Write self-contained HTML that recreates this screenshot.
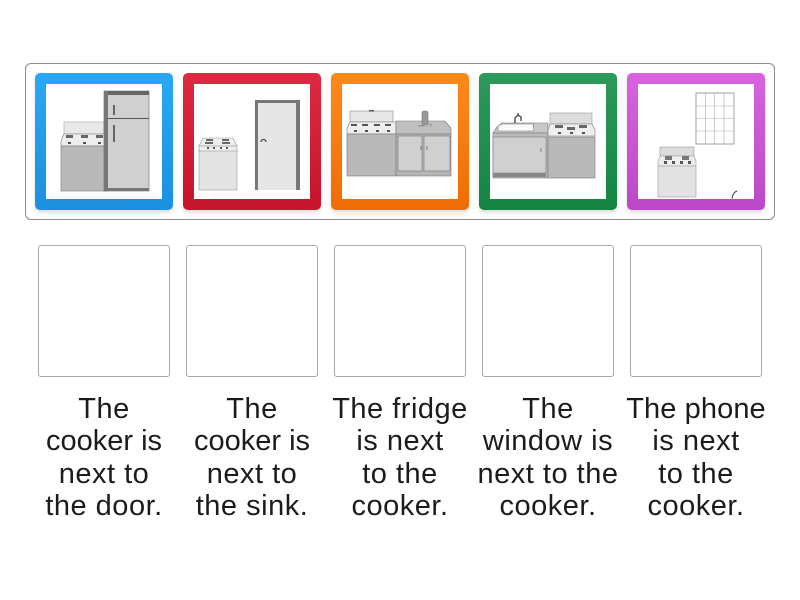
<!DOCTYPE html>
<html><head><meta charset="utf-8">
<style>
html,body{margin:0;padding:0;background:#fff;width:800px;height:600px;overflow:hidden}
.a{position:absolute;box-sizing:border-box}
.tray{left:25px;top:63px;width:750px;height:157px;border:1px solid #8c8c8c;border-radius:6px}
.card{top:73px;width:138px;height:137px;border-radius:5px;box-shadow:0 3px 4px rgba(0,0,0,.12)}
.in{left:11px;top:11px;width:116px;height:115px;background:#fff}
.drop{top:245px;width:131.500px;height:131.500px;border:1px solid #a8a8a8;border-radius:3px}
.t{top:393px;width:160px;text-align:center;font:29px/32.3px "Liberation Sans",sans-serif;color:#1c1c1c;white-space:nowrap;letter-spacing:.5px}
.n{letter-spacing:0}
.m{letter-spacing:.1px}
svg{position:absolute;left:0;top:0;filter:blur(.35px)}
</style></head><body>
<div class="a tray"></div>
<div class="a card" style="left:35px;background:linear-gradient(#2aa8f5,#1b90de)"><div class="a in"></div></div>
<div class="a card" style="left:183px;background:linear-gradient(#dd2a42,#c5142c)"><div class="a in"></div></div>
<div class="a card" style="left:331px;background:linear-gradient(#ff8a18,#f06c05)"><div class="a in"></div></div>
<div class="a card" style="left:479px;background:linear-gradient(#2d9a5c,#158441)"><div class="a in"></div></div>
<div class="a card" style="left:627px;background:linear-gradient(#d964e2,#bb48c6)"><div class="a in"></div></div>

<svg width="800" height="600" viewBox="0 0 800 600" stroke="#777" stroke-width=".6">
<!-- card 1 -->
<rect x="64" y="122" width="40" height="12" fill="#e8e8e8" stroke="#aaa"/>
<path d="M64 134H108V146H61V141Z" fill="#eee"/>
<rect x="61" y="146" width="47" height="45" fill="#b9b9b9"/>
<rect x="66" y="135" width="7" height="3" fill="#666" stroke="none"/><rect x="81" y="135" width="7" height="3" fill="#666" stroke="none"/><rect x="96" y="135" width="7" height="3" fill="#666" stroke="none"/>
<rect x="68" y="142" width="3" height="2" fill="#555" stroke="none"/><rect x="83" y="142" width="3" height="2" fill="#555" stroke="none"/><rect x="98" y="142" width="3" height="2" fill="#555" stroke="none"/>
<rect x="104" y="91" width="45" height="100" fill="#d0d0d0" stroke="#666"/>
<rect x="104" y="91" width="45" height="4" fill="#666" stroke="none"/>
<rect x="104" y="91" width="4" height="100" fill="#777" stroke="none"/>
<rect x="108" y="188" width="41" height="3" fill="#777" stroke="none"/>
<path d="M108 118.500H149" stroke="#555" stroke-width="1"/>
<rect x="113" y="105" width="2" height="10" fill="#666" stroke="none"/>
<rect x="113" y="125" width="2" height="17" fill="#666" stroke="none"/>
<!-- card 2 -->
<rect x="199" y="150" width="38" height="40" fill="#e4e4e4" stroke="#999"/>
<path d="M203 138H233L237 146H199Z" fill="#eee" stroke="#999"/>
<rect x="199" y="146" width="38" height="5" fill="#eee" stroke="#999"/>
<rect x="206" y="139" width="7" height="2" fill="#666" stroke="none"/><rect x="222" y="139" width="7" height="2" fill="#666" stroke="none"/>
<rect x="205" y="142" width="8" height="2" fill="#666" stroke="none"/><rect x="222" y="142" width="8" height="2" fill="#666" stroke="none"/>
<rect x="207" y="147" width="2" height="2" fill="#555" stroke="none"/><rect x="213" y="147" width="2" height="2" fill="#555" stroke="none"/><rect x="220" y="147" width="2" height="2" fill="#555" stroke="none"/><rect x="226" y="147" width="2" height="2" fill="#555" stroke="none"/>
<rect x="255" y="100" width="45" height="90" fill="#777" stroke="none"/>
<rect x="258" y="103" width="38" height="87" fill="#e6e6e6" stroke="none"/>
<path d="M261 142a2.500 2.500 0 0 1 5 0" fill="none" stroke="#444" stroke-width="1.200"/>
<!-- card 3 -->
<rect x="350" y="111" width="43" height="11" fill="#e8e8e8" stroke="#888"/>
<rect x="369" y="110" width="5" height="1.500" fill="#555" stroke="none"/>
<path d="M350 122H396V134H347V128Z" fill="#eee"/>
<rect x="347" y="134" width="49" height="42" fill="#b9b9b9"/>
<rect x="351" y="124" width="6" height="2" fill="#555" stroke="none"/><rect x="362" y="124" width="6" height="2" fill="#555" stroke="none"/><rect x="374" y="124" width="6" height="2" fill="#555" stroke="none"/><rect x="385" y="124" width="6" height="2" fill="#555" stroke="none"/>
<rect x="354" y="130" width="3" height="2" fill="#555" stroke="none"/><rect x="365" y="130" width="3" height="2" fill="#555" stroke="none"/><rect x="376" y="130" width="3" height="2" fill="#555" stroke="none"/><rect x="387" y="130" width="3" height="2" fill="#555" stroke="none"/>
<path d="M396 121H445L451 128V134H396Z" fill="#c0c0c0"/>
<rect x="396" y="134" width="55" height="42" fill="#b5b5b5"/>
<rect x="398" y="136" width="24" height="35" fill="#d0d0d0"/>
<rect x="424" y="136" width="26" height="35" fill="#d0d0d0"/>
<path d="M421 146v4M427 146v4" stroke="#444"/>
<rect x="422" y="111" width="6" height="14" rx="2" fill="#999"/>
<path d="M418 126L431 124V126H420Z" fill="#ddd"/>
<!-- card 4 -->
<path d="M497 127L502 123H548V133H493Z" fill="#c8c8c8"/>
<path d="M498 126L502 124H533L534 131H498Z" fill="#fafafa"/>
<path d="M515 123v-5l3 -3 3 2v4M518 115v-2" fill="none" stroke="#555" stroke-width="1.500"/>
<rect x="493" y="133" width="55" height="45" fill="#bbb"/>
<rect x="493" y="137" width="53" height="36" fill="#d0d0d0"/>
<rect x="493" y="173" width="53" height="4" fill="#888" stroke="none"/>
<path d="M541 148v4" stroke="#444"/>
<rect x="550" y="113" width="42" height="11" fill="#ddd" stroke="#999"/>
<path d="M550 124H592L595 130V136H548V130Z" fill="#eee"/>
<rect x="548" y="137" width="47" height="41" fill="#b9b9b9"/>
<rect x="555" y="125" width="8" height="3" fill="#666" stroke="none"/><rect x="567" y="127" width="8" height="3" fill="#666" stroke="none"/><rect x="579" y="125" width="8" height="3" fill="#666" stroke="none"/>
<rect x="558" y="132" width="3" height="2" fill="#555" stroke="none"/><rect x="570" y="132" width="3" height="2" fill="#555" stroke="none"/><rect x="582" y="132" width="3" height="2" fill="#555" stroke="none"/>
<!-- card 5 -->
<rect x="696" y="93" width="38" height="51" fill="#fff" stroke="#666"/>
<path d="M705.500 93V144M714.500 93V144M724 93V144M696 106H734M696 118.500H734M696 131H734" stroke="#aaa"/>
<rect x="660" y="147" width="34" height="9" fill="#ddd" stroke="#999"/>
<path d="M660 156H694L696 161V166H658V161Z" fill="#eee" stroke="#999"/>
<rect x="658" y="166" width="38" height="31" fill="#e2e2e2" stroke="#999"/>
<rect x="665" y="156" width="7" height="4" fill="#777" stroke="none"/><rect x="682" y="156" width="7" height="4" fill="#777" stroke="none"/>
<rect x="664" y="161" width="3" height="3" fill="#555" stroke="none"/><rect x="672" y="161" width="3" height="3" fill="#555" stroke="none"/><rect x="680" y="161" width="3" height="3" fill="#555" stroke="none"/><rect x="688" y="161" width="3" height="3" fill="#555" stroke="none"/>
<path d="M732 198.500C732.500 195 734 192 737 191" fill="none" stroke="#333" stroke-width="1"/>
</svg>

<div class="a drop" style="left:38px"></div>
<div class="a drop" style="left:186px"></div>
<div class="a drop" style="left:334px"></div>
<div class="a drop" style="left:482px"></div>
<div class="a drop" style="left:630px"></div>

<div class="a t" style="left:24px">The<br><span class="n">cooker is</span><br>next to<br>the door.</div>
<div class="a t" style="left:172px">The<br><span class="n">cooker is</span><br>next to<br>the sink.</div>
<div class="a t" style="left:320px">The fridge<br>is next<br>to the<br>cooker.</div>
<div class="a t" style="left:468px">The<br>window is<br>next to the<br>cooker.</div>
<div class="a t" style="left:616px"><span class="m">The phone</span><br>is next<br>to the<br>cooker.</div>
</body></html>
